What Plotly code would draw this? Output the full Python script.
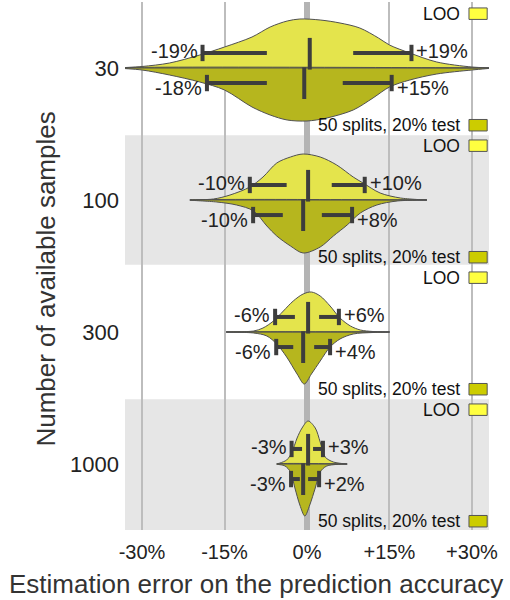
import plotly.graph_objects as go

# ---------------- data ----------------
rows = ["30", "100", "300", "1000"]
tick_vals_x = [-30, -15, 0, 15, 30]
tick_text_x = ["-30%", "-15%", "0%", "+15%", "+30%"]
x_title = "Estimation error on the prediction accuracy"
y_title = "Number of available samples"

# density profiles (x in %, relative half-width)
loo_x = [
    [-34, -30, -25, -19.5, -15, -10, -6.7, -3.6, -1.3, 2.4, 6, 9.6, 13, 15, 18.7, 23.6, 30, 34],
    [-21.3, -17, -14, -10.4, -8, -5.5, -3, -0.7, 2.4, 5.4, 8.4, 10.2, 13.3, 17, 21.8],
    [-14.7, -9.7, -8, -6.1, -4.3, -2.5, -0.7, 0.8, 2.4, 4.2, 6, 7.9, 9.7, 12, 15],
    [-5.5, -4.9, -3.7, -2.8, -1.8, -0.9, 0.2, 1.5, 2.4, 3.3, 4.8, 7.3],
]
loo_d = [
    [0, 1.5, 5, 13, 21, 31, 41, 47, 49, 48, 45, 40, 30, 23, 15, 6, 1, 0],
    [0, 1, 5, 13, 23, 37, 43, 46, 43, 35, 23, 17, 7, 2, 0],
    [0, 1, 4, 11, 21, 31, 38, 40, 36, 26, 14, 6, 2, 0.5, 0],
    [0, 1, 4, 11, 26, 36, 43, 36, 22, 7, 2, 0],
]
split_x = [
    [-34, -30, -25, -19.5, -15, -10, -6.7, -3.6, 0, 3.6, 8.4, 12, 15, 18.7, 23.6, 30, 34],
    [-21.3, -16.4, -12.8, -9.7, -7.3, -5.5, -3, -0.7, 2.4, 4.8, 7.3, 9.7, 12.7, 16.4, 21.8],
    [-14.7, -9.7, -7.3, -5.5, -3.7, -1.8, -0.5, 0.8, 2.4, 4.2, 6, 8.4, 12, 15],
    [-5.5, -4, -3, -2.2, -1.3, -0.4, 0.5, 1.5, 2.4, 3.6, 7.3],
]
split_d = [
    [0, 2, 7, 14, 22, 39, 47, 52, 53, 50, 42, 30, 19, 12, 6, 2, 0],
    [0, 2, 5, 11, 26, 36, 46, 53, 47, 36, 25, 13, 5, 1, 0],
    [0, 1, 4, 12, 25, 42, 52, 42, 29, 15, 7, 2, 0.5, 0],
    [0, 2, 8, 24, 41, 52, 41, 24, 8, 2, 0],
]
# percentiles: p5, p25, median, p75, p95
loo_pct = [
    [-19, -7.3, 0.5, 8.4, 19],
    [-10.4, -3.7, 0.2, 4.5, 10.5],
    [-5.8, -2.2, 0.2, 2.2, 5.8],
    [-2.8, -0.9, 0.2, 1.1, 2.9],
]
split_pct = [
    [-18.2, -7.3, -0.5, 6.5, 15.4],
    [-9.8, -4.4, -0.7, 2.7, 8.2],
    [-5.6, -2.5, -0.7, 1.3, 4.2],
    [-2.9, -1.3, -0.7, 0.2, 2.2],
]
legend_names = ["LOO", "50 splits, 20% test"]

# ---------------- style ----------------
FONT = "Liberation Sans, Arial, sans-serif"
C_LOO = "#e4e44c"
C_SPLIT = "#b6b61e"
SW_LOO = "#ffff40"
SW_SPLIT = "#cccc00"
C_MARK = "#3d3d3d"
SCALE = 1 / 132.0

fig = go.Figure()
shapes = []
annotations = []

for i, r in enumerate(rows):
    if i % 2 == 1:
        shapes.append(dict(type="rect", xref="x domain", yref="y", x0=0, x1=1,
                           y0=i - 0.49, y1=i + 0.5 if i == 3 else i + 0.49,
                           fillcolor="#e6e6e6", line_width=0, layer="below"))
    for side, xs, ds, col in [(-1, loo_x[i], loo_d[i], C_LOO), (1, split_x[i], split_d[i], C_SPLIT)]:
        px = list(xs) + [xs[-1], xs[0]]
        py = [i + side * d * SCALE for d in ds] + [i, i]
        fig.add_trace(go.Scatter(x=px, y=py, fill="toself", fillcolor=col, mode="lines",
                                 line=dict(color="#505050", width=1, shape="spline", smoothing=0.9),
                                 hoverinfo="skip", showlegend=False))
    # center line
    fig.add_trace(go.Scatter(x=[min(loo_x[i][0], split_x[i][0]), max(loo_x[i][-1], split_x[i][-1])],
                             y=[i, i], mode="lines", line=dict(color="#505050", width=1),
                             hoverinfo="skip", showlegend=False))
    # percentile markers
    for side, p in [(-1, loo_pct[i]), (1, split_pct[i])]:
        yl = i + side * 0.114
        mx, my = [], []
        mx += [p[0], p[1], None, p[3], p[4], None]
        my += [yl, yl, None, yl, yl, None]
        for v in (p[0], p[4]):
            mx += [v, v, None]
            my += [yl - 0.062, yl + 0.062, None]
        if side < 0:
            mx += [p[2], p[2], None]
            my += [i - 0.228, i + 0.012, None]
        else:
            mx += [p[2], p[2], None]
            my += [i - 0.005, i + 0.235, None]
        fig.add_trace(go.Scatter(x=mx, y=my, mode="lines", line=dict(color=C_MARK, width=4),
                                 hoverinfo="skip", showlegend=False))
        ylab = i - 0.128 if side < 0 else i + 0.152
        annotations.append(dict(x=p[0], y=ylab, xref="x", yref="y", text=f"{p[0]:+.0f}%".replace("+-", "-"),
                                showarrow=False, xanchor="right", yanchor="middle", xshift=-3,
                                font=dict(size=20, color="#222222", family=FONT)))
        annotations.append(dict(x=p[4], y=ylab, xref="x", yref="y", text=f"{p[4]:+.0f}%",
                                showarrow=False, xanchor="left", yanchor="middle", xshift=3,
                                font=dict(size=20, color="#222222", family=FONT)))
    # row legend
    annotations.append(dict(x=0.926, y=i - 0.41, xref="x domain", yref="y", text=legend_names[0],
                            showarrow=False, xanchor="right", yanchor="middle",
                            font=dict(size=17.5, color="#111111", family=FONT)))
    annotations.append(dict(x=0.926, y=i + 0.432, xref="x domain", yref="y", text=legend_names[1],
                            showarrow=False, xanchor="right", yanchor="middle",
                            font=dict(size=17.5, color="#111111", family=FONT)))
    shapes.append(dict(type="rect", xref="x domain", yref="y", x0=0.945, x1=0.995,
                       y0=i - 0.455, y1=i - 0.368, fillcolor=SW_LOO,
                       line=dict(color="#555555", width=1)))
    shapes.append(dict(type="rect", xref="x domain", yref="y", x0=0.945, x1=0.995,
                       y0=i + 0.39, y1=i + 0.477, fillcolor=SW_SPLIT,
                       line=dict(color="#555555", width=1)))

# axis titles (centred like the reference, not on the plot area)
annotations.append(dict(x=0.361, y=-0.102, xref="paper", yref="paper", text=x_title,
                        showarrow=False, xanchor="center", yanchor="middle",
                        font=dict(size=26, color="#333333", family=FONT)))
annotations.append(dict(x=-0.216, y=0.475, xref="paper", yref="paper", text=y_title,
                        showarrow=False, xanchor="center", yanchor="middle", textangle=-90,
                        font=dict(size=26, color="#333333", family=FONT)))

fig.update_layout(
    width=510, height=600,
    margin=dict(l=125, r=21, t=2, b=70),
    plot_bgcolor="white", paper_bgcolor="white",
    font=dict(family=FONT, color="#222222"),
    shapes=shapes, annotations=annotations,
    xaxis=dict(range=[-33.1, 33.1], tickvals=tick_vals_x, ticktext=tick_text_x,
               showgrid=True, gridcolor="#bdbdbd", gridwidth=2,
               zeroline=True, zerolinecolor="#b4b4b4", zerolinewidth=6,
               showline=False, ticks="", tickfont=dict(size=20, color="#222222"),
               ticklabelstandoff=8, automargin=False, fixedrange=True),
    yaxis=dict(range=[3.5, -0.5], tickvals=list(range(len(rows))), ticktext=rows,
               showgrid=False, zeroline=False, showline=False, ticks="",
               tickfont=dict(size=22, color="#222222"), ticklabelstandoff=5,
               automargin=False, fixedrange=True),
)

fig.write_html("out.html")
